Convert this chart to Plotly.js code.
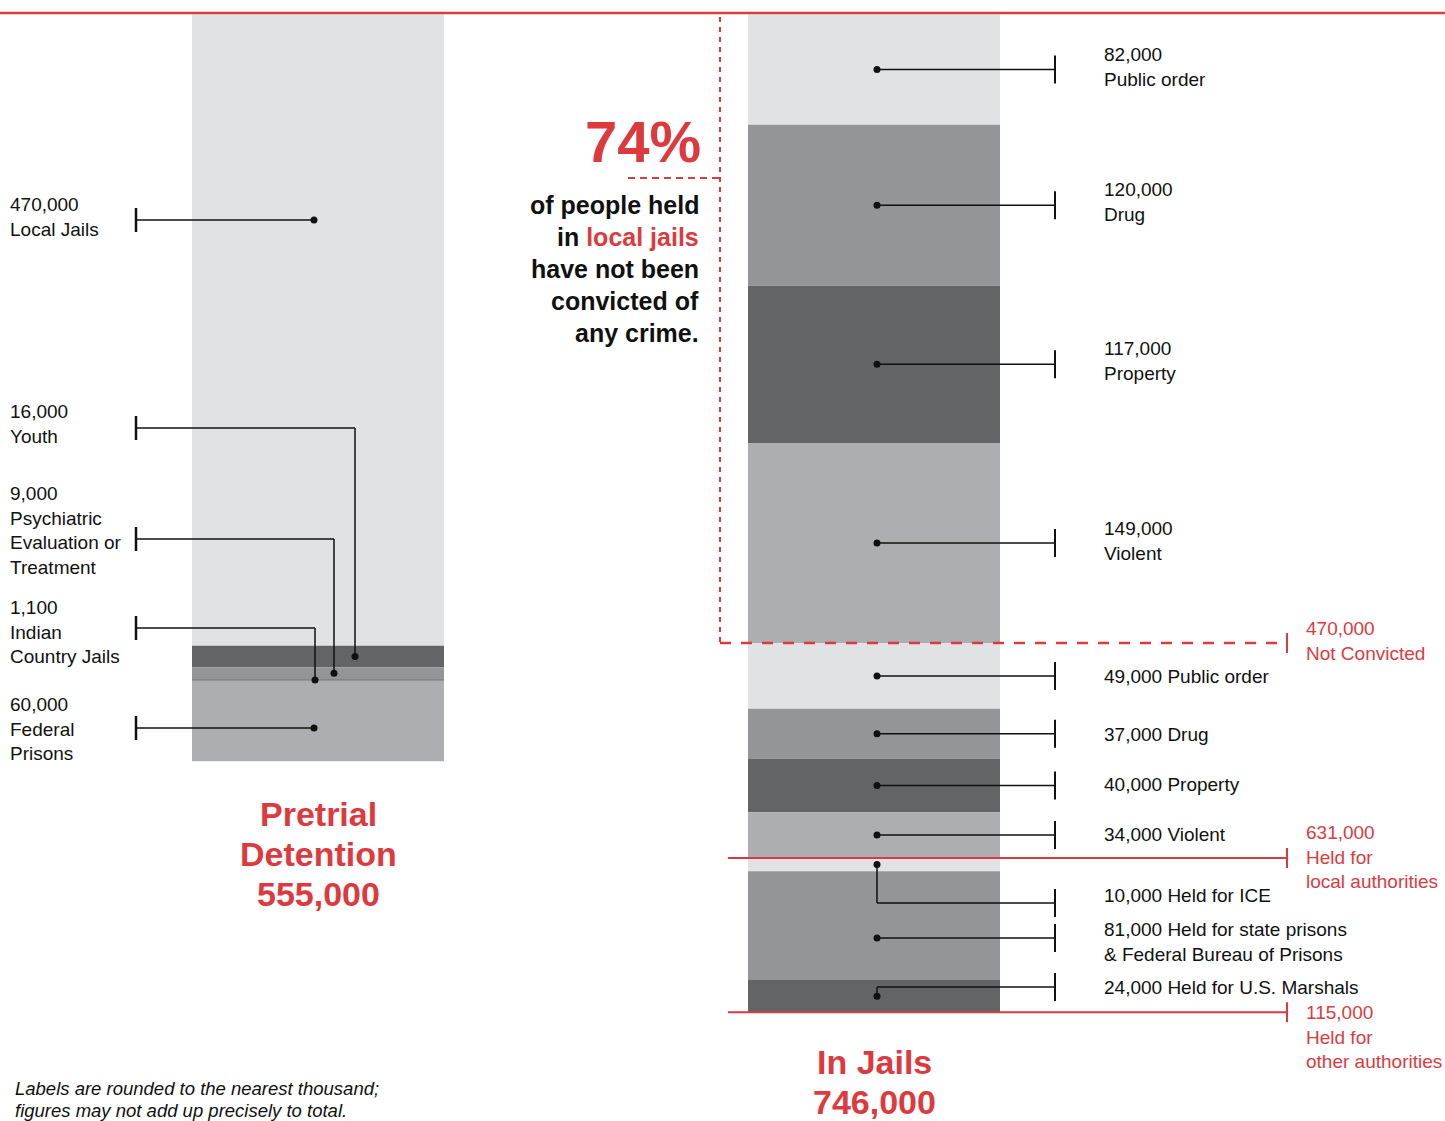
<!DOCTYPE html>
<html>
<head>
<meta charset="utf-8">
<script src="https://cdn.plot.ly/plotly-3.0.1.min.js"></script>
<style>
html,body{margin:0;padding:0;background:#ffffff;}
#chart{width:1445px;height:1121px;}
</style>
</head>
<body>
<div id="chart"></div>
<script>
// ---------------- DATA (values in thousands of people) ----------------
const columns = ['Pretrial Detention', 'In Jails'];
const columnTitles = [['Pretrial', 'Detention', '555,000'], ['In Jails', '746,000']];

const pretrialCategories = ['Local Jails', 'Youth', 'Psychiatric<br>Evaluation or<br>Treatment', 'Indian<br>Country Jails', 'Federal<br>Prisons'];
const pretrialValues = [470, 16, 9, 1.1, 60];
const pretrialValueLabels = ['470,000', '16,000', '9,000', '1,100', '60,000'];

const jailCategories = ['Public order', 'Drug', 'Property', 'Violent',
  'Public order', 'Drug', 'Property', 'Violent',
  'Held for ICE', 'Held for state prisons<br>& Federal Bureau of Prisons', 'Held for U.S. Marshals'];
const jailValues = [82, 120, 117, 149, 49, 37, 40, 34, 10, 81, 24];
const jailValueLabels = ['82,000', '120,000', '117,000', '149,000', '49,000', '37,000', '40,000', '34,000', '10,000', '81,000', '24,000'];

const jailGroupNames = ['Not Convicted', 'Held for<br>local authorities', 'Held for<br>other authorities'];
const jailGroupTotals = ['470,000', '631,000', '115,000'];
const jailGroupLastSegment = [3, 7, 10];

const headlinePercent = '74%';
const headlineLines = ['of people held', 'in <span style="color:#dc3a3f">local jails</span>', 'have not been', 'convicted of', 'any crime.'];
const footnoteLines = ['Labels are rounded to the nearest thousand;', 'figures may not add up precisely to total.'];

// ---------------- STYLE / LAYOUT ----------------
const W = 1445, H = 1121;
const TOP = 14.5;          // pixel where value 0 sits
const S = 1.343;           // pixels per thousand
const UNIT = 556;          // pixels between the two column centres
const COL0 = 318;          // pixel centre of first column
const BARW = 252;
const RED = '#dc3a3f';
const INK = '#111111';
const FONT = '"Liberation Sans", Arial, Helvetica, sans-serif';
const G = {light: '#e1e2e4', mid: '#949598', dark: '#636466', soft: '#adaeb1'};
const pretrialColors = [G.light, G.dark, G.mid, G.dark, G.soft];
const jailColors = [G.light, G.mid, G.dark, G.soft, G.light, G.mid, G.dark, G.soft, G.light, G.mid, G.dark];

// leader layout (pixels)
const leftDotX = [314, 355, 334, 315, 314];
const leftLabelPx = [220, 428, 539, 628, 728];
const leftDotOnLabel = [true, false, false, false, true];
const leftTextShift = [-3, -4, -9, 4, 1];
const leftTickX = 136, leftTextX = 8;
const rightDotX = 877, rightTickX = 1055, rightTextX = 1102;
const rightLabelPx = [null, null, null, null, null, null, null, null, 903, 938, 987];
const rightDotOnLabel = [true, true, true, true, true, true, true, true, false, true, false];
const rightTextShift = [-3, -3, -3, -2, 1, 1, -1, -1, -8, 4, 0];
const rightTwoLine = [true, true, true, true, false, false, false, false, false, false, false];
const groupTextShift = [-2, -1, 25];

const Y = p => (p - TOP) / S;       // pixel -> data
const dY = p => p / S;              // pixel distance -> data

function cumulative(vals) { const b = []; let s = 0; for (const v of vals) { b.push(s); s += v; } return b; }
const pBase = cumulative(pretrialValues);
const jBase = cumulative(jailValues);

const traces = [];
traces.push({
  type: 'bar', x: pretrialValues.map(() => columns[0]), y: pretrialValues, base: pBase,
  width: BARW / UNIT, marker: {color: pretrialColors, line: {width: 0}}, hoverinfo: 'skip', showlegend: false
});
traces.push({
  type: 'bar', x: jailValues.map(() => columns[1]), y: jailValues, base: jBase,
  width: BARW / UNIT, marker: {color: jailColors, line: {width: 0}}, hoverinfo: 'skip', showlegend: false
});

const shapes = [];
const annotations = [];
const dotX = [], dotY = [];

function line(x0, y0, x1, y1, color, width, dash) {
  shapes.push({type: 'line', xref: 'x2', yref: 'y', x0, y0, x1, y1, line: {color, width, dash: dash || 'solid'}, layer: 'above'});
}
function text(x, y, t, opts) {
  annotations.push(Object.assign({xref: 'x2', yref: 'y', x, y, text: t, showarrow: false,
    xanchor: 'left', yanchor: 'middle', align: 'left',
    font: {family: FONT, size: 19, color: INK}}, opts || {}));
}

// leaders for pretrial column
pretrialValues.forEach((v, i) => {
  const mid = pBase[i] + v / 2;
  const ly = Y(leftLabelPx[i]);
  const dy = leftDotOnLabel[i] ? ly : mid;
  dotX.push(leftDotX[i]); dotY.push(dy);
  if (dy !== ly) line(leftDotX[i], dy, leftDotX[i], ly, INK, 1.5);
  line(leftDotX[i], ly, leftTickX, ly, INK, 1.5);
  line(leftTickX, ly - dY(12), leftTickX, ly + dY(12), INK, 2.5);
  text(leftTextX, ly + dY(leftTextShift[i]), pretrialValueLabels[i] + '<br>' + pretrialCategories[i]);
});

// leaders for jail column
jailValues.forEach((v, i) => {
  const mid = jBase[i] + v / 2;
  const ly = rightLabelPx[i] === null ? mid : Y(rightLabelPx[i]);
  const dy = rightDotOnLabel[i] ? ly : mid;
  dotX.push(rightDotX); dotY.push(dy);
  if (dy !== ly) line(rightDotX, dy, rightDotX, ly, INK, 1.5);
  line(rightDotX, ly, rightTickX, ly, INK, 1.5);
  line(rightTickX, ly - dY(14), rightTickX, ly + dY(14), INK, 2);
  text(rightTextX, ly + dY(rightTextShift[i]), jailValueLabels[i] + (rightTwoLine[i] ? '<br>' : ' ') + jailCategories[i]);
});

traces.push({type: 'scatter', mode: 'markers', xaxis: 'x2', yaxis: 'y', x: dotX, y: dotY,
  marker: {size: 7, color: INK}, hoverinfo: 'skip', showlegend: false});

// top red rule
shapes.push({type: 'line', xref: 'paper', yref: 'y', x0: 0, x1: 1, y0: Y(13), y1: Y(13), line: {color: RED, width: 2.5}});

// group brackets
jailGroupLastSegment.forEach((k, g) => {
  const yb = jBase[k] + jailValues[k];
  if (g === 0) {
    line(720, Y(17), 720, yb, RED, 2, '5px,5px');
    line(720, yb, 1287, yb, RED, 2.5, '11px,10px');
    line(628, Y(178), 720, Y(178), RED, 2, '7px,5px');
  } else {
    line(728, yb, 1287, yb, RED, 2);
  }
  line(1287, yb - dY(10), 1287, yb + dY(10), RED, 2);
  text(1304, yb + dY(groupTextShift[g]), jailGroupTotals[g] + '<br>' + jailGroupNames[g],
    {font: {family: FONT, size: 19, color: RED}});
});

// 74% headline
text(703, Y(141), headlinePercent, {xanchor: 'right', align: 'right',
  font: {family: FONT, size: 58, color: RED, weight: 'bold'}});
headlineLines.forEach((t, i) => {
  text(701, Y(205 + 32 * i), '<b>' + t + '</b>', {xanchor: 'right', align: 'right',
    font: {family: FONT, size: 25, color: INK}});
});

// column titles
const titleX = [COL0, COL0 + UNIT];
const titleY0 = [814, 1062];
columnTitles.forEach((lines, c) => {
  lines.forEach((t, i) => {
    text(titleX[c], Y(titleY0[c] + 40 * i), '<b>' + t + '</b>', {xanchor: 'center', align: 'center',
      font: {family: FONT, size: 34, color: RED}});
  });
});

// footnote
footnoteLines.forEach((t, i) => {
  text(13, Y(1088 + 22 * i), '<i>' + t + '</i>', {font: {family: FONT, size: 18.5, color: INK}});
});

const layout = {
  width: W, height: H,
  margin: {l: 0, r: 0, t: 0, b: 0, pad: 0},
  paper_bgcolor: '#ffffff', plot_bgcolor: '#ffffff',
  barmode: 'overlay', showlegend: false,
  xaxis: {type: 'category', categoryorder: 'array', categoryarray: columns,
    range: [-COL0 / UNIT, (W - COL0) / UNIT], visible: false, fixedrange: true},
  xaxis2: {overlaying: 'x', anchor: 'y', range: [0, W], visible: false, fixedrange: true},
  yaxis: {range: [Y(H), Y(0)], visible: false, fixedrange: true},
  shapes, annotations
};

Plotly.newPlot('chart', traces, layout, {displayModeBar: false, staticPlot: true});
</script>
</body>
</html>
